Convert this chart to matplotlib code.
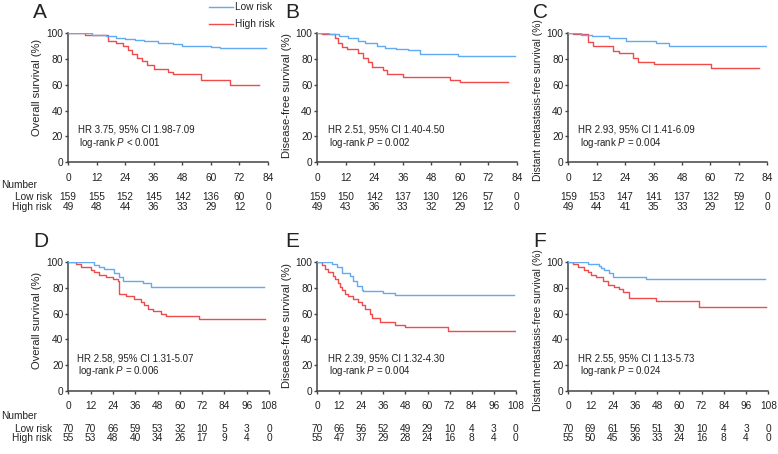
import matplotlib.pyplot as plt
from matplotlib.lines import Line2D
from matplotlib.transforms import blended_transform_factory

plt.rcParams["font.family"] = ["Liberation Sans", "DejaVu Sans"]
plt.rcParams["mathtext.fontset"] = "custom"
plt.rcParams["mathtext.rm"] = "Liberation Sans"
plt.rcParams["mathtext.it"] = "Liberation Sans:italic"

BLUE = "#62aaf2"
RED = "#ef4b4b"
INK = "#222222"

# ---- data ----
panel_letters = ["A", "B", "C", "D", "E", "F"]

ylabels = [
    "Overall survival (%)",
    "Disease-free survival (%)",
    "Distant metastasis-free survival (%)",
    "Overall survival (%)",
    "Disease-free survival (%)",
    "Distant metastasis-free survival (%)",
]

hr_text = [
    "HR 3.75, 95% CI 1.98-7.09",
    "HR 2.51, 95% CI 1.40-4.50",
    "HR 2.93, 95% CI 1.41-6.09",
    "HR 2.58, 95% CI 1.31-5.07",
    "HR 2.39, 95% CI 1.32-4.30",
    "HR 2.55, 95% CI 1.13-5.73",
]

p_text = ["< 0.001", "= 0.002", "= 0.004", "= 0.006", "= 0.004", "= 0.024"]

x_max = [84, 84, 84, 108, 108, 108]

# low risk step curves: change times, survival after change, last follow-up
low_t = [
    [0, 10, 16, 20, 24, 28, 32, 38, 44, 48, 60, 64],
    [0, 5, 9, 13, 17, 20, 25, 28.5, 33, 38.3, 43.3, 59.4],
    [0, 5.4, 10, 17.3, 24.4, 37, 42.7],
    [0, 14, 16.5, 19.4, 24.8, 27.4, 29.3, 40.4, 44.5],
    [0, 7.8, 10.6, 13.3, 17.8, 19.6, 21.4, 24.2, 25, 35.9, 42.3],
    [0, 10.5, 16.7, 17.7, 19.4, 22.1, 23.9, 42],
]
low_s = [
    [100, 98.5, 97.5, 96.5, 95.5, 94.5, 93.5, 92.5, 91.5, 90, 89, 88.3],
    [100, 99, 97.5, 95.9, 94, 92, 90.3, 88.7, 87.8, 86.9, 83.6, 82.5],
    [100, 98.5, 97.3, 95.9, 93.8, 92, 90.3],
    [100, 98.2, 96.5, 94.9, 91.5, 88.4, 85.8, 83.7, 81.1],
    [100, 98.7, 96.4, 91.5, 89.7, 85.8, 81.9, 78.2, 77.4, 76.1, 74.3],
    [100, 98.7, 96.9, 95.3, 93.8, 91.7, 88.6, 86.8],
]
low_end = [83, 83.3, 83.4, 105.5, 107, 106.2]

high_t = [
    [0, 7, 17, 20, 23, 25, 27, 29, 31, 33, 36, 42, 44, 56, 68],
    [0, 1.8, 7.4, 8.8, 10.3, 12.4, 17.3, 19.4, 21.5, 22.9, 27.8, 29.2, 36.2, 55.9, 60.1],
    [0, 1.8, 8.2, 10.3, 18.7, 21.5, 27.2, 29.3, 36.3, 60.2],
    [0, 4.1, 6.8, 12.2, 14, 16.7, 20.3, 23.9, 26.6, 27.5, 31, 35.5, 39.1, 40.9,
     42.7, 45.4, 49.9, 52.6, 70.5],
    [0, 2.4, 4.2, 6, 8.7, 9.6, 11.4, 12.4, 13.3, 15.1, 16.9, 19.6, 22.3, 24.2,
     26, 28.7, 29.6, 34.1, 42.3, 47.7, 71.3],
    [0, 2.4, 5.1, 8.6, 10.5, 12.3, 15, 18.6, 21.3, 24.8, 27.5, 29.4, 32.9, 47.4, 70.7],
]
high_s = [
    [100, 98.5, 94, 92, 90, 87, 84, 81, 78, 75, 72, 70, 68, 64, 60],
    [100, 99, 95.9, 92, 89.5, 87.7, 84.3, 80.5, 77.9, 74, 71.5, 68.1, 65.6, 63.7, 62],
    [100, 98.9, 93.4, 90.3, 86.1, 84.3, 81, 77.9, 75.8, 73.3],
    [100, 98.7, 96.6, 94, 92.2, 90.4, 88.9, 87, 85.2, 75.5, 73.4, 71.6, 69, 66.4,
     63.9, 62, 59.9, 58.1, 55.5],
    [100, 97.7, 94.9, 92.2, 89.7, 87, 83.7, 81.1, 78.5, 75.5, 73.4, 71.6, 69,
     66.4, 63.9, 59.9, 56.8, 53.5, 51.4, 49.6, 46.5],
    [100, 98.7, 96.6, 94, 92.2, 90.4, 88.4, 85.8, 82.6, 80.5, 79.1, 76.6, 72.2, 70.1, 65.5],
]
high_end = [80.2, 80.4, 80.4, 106, 107.6, 106.7]

# numbers at risk
low_n = [
    [159, 155, 152, 145, 142, 136, 60, 0],
    [159, 150, 142, 137, 130, 126, 57, 0],
    [159, 153, 147, 141, 137, 132, 59, 0],
    [70, 70, 66, 59, 53, 32, 10, 5, 3, 0],
    [70, 66, 56, 52, 49, 29, 10, 4, 3, 0],
    [70, 69, 61, 56, 51, 30, 10, 4, 3, 0],
]
high_n = [
    [49, 48, 44, 36, 33, 29, 12, 0],
    [49, 43, 36, 33, 32, 29, 12, 0],
    [49, 44, 41, 35, 33, 29, 12, 0],
    [55, 53, 48, 40, 34, 26, 17, 9, 4, 0],
    [55, 47, 37, 29, 28, 24, 16, 8, 4, 0],
    [55, 50, 45, 36, 33, 24, 16, 8, 4, 0],
]

# ---- layout (pixels of the 778x454 figure) ----
W, H = 778, 454
ax_left = [68, 317.3, 568.3, 68.3, 317.3, 568.3]
ax_width = [200, 199.4, 199, 200.7, 198.4, 200]
ax_top = [33, 33, 33, 262.3, 262.3, 262.3]
ax_bottom = [162.3, 162.3, 162.3, 390.7, 390.7, 390.7]
letter_x = [33, 285, 533, 33, 285, 533]
letter_y = [3, 3, 3, 232, 232, 232]
ylabel_y = [0.58, 0.52, 0.48, 0.55, 0.51, 0.47]
ylabel_size = [8, 8, 7.4, 8, 8, 7.4]
ylabel_off = [26, 25, 25, 26, 25, 25]
hr_x = [0.048, 0.052, 0.05, 0.042, 0.052, 0.05]
row_number_y = [185, 185, 185, 415.7, 415.7, 415.7]
row_low_y = [197, 197, 197, 429, 429, 429]
row_high_y = [207.3, 207.3, 207.3, 438.3, 438.3, 438.3]

fig = plt.figure(figsize=(W / 100, H / 100), dpi=100)

for i in range(6):
    l = ax_left[i] / W
    b = 1 - ax_bottom[i] / H
    w = ax_width[i] / W
    h = (ax_bottom[i] - ax_top[i]) / H
    ax = fig.add_axes([l, b, w, h])

    ax.step(low_t[i] + [low_end[i]], low_s[i] + [low_s[i][-1]],
            where="post", color=BLUE, lw=1.0, zorder=3)
    ax.step(high_t[i] + [high_end[i]], high_s[i] + [high_s[i][-1]],
            where="post", color=RED, lw=1.0, zorder=2)

    ax.set_xlim(0, x_max[i])
    ax.set_ylim(0, 100)
    ax.set_xticks(range(0, x_max[i] + 1, 12))
    ax.set_yticks(range(0, 101, 20))
    for s in ["top", "right"]:
        ax.spines[s].set_visible(False)
    for s in ["left", "bottom"]:
        ax.spines[s].set_color("#444444")
        ax.spines[s].set_linewidth(1.1)
    ax.tick_params(axis="x", length=2.5, width=1, pad=5, labelsize=7.3,
                   colors="#444444", labelcolor=INK)
    ax.tick_params(axis="y", length=2.5, width=1, pad=1, labelsize=7.3,
                   colors="#444444", labelcolor=INK)

    ax.set_ylabel(ylabels[i], fontsize=ylabel_size[i], color=INK)
    ax.yaxis.set_label_coords(-ylabel_off[i] / ax_width[i], ylabel_y[i])

    ax.text(hr_x[i], 0.25, hr_text[i], transform=ax.transAxes,
            fontsize=7, color=INK, va="center", ha="left")
    ax.text(hr_x[i] + 0.008, 0.152, "log-rank $P$ " + p_text[i],
            transform=ax.transAxes, fontsize=7, color=INK, va="center", ha="left")

    fig.text(letter_x[i] / W, 1 - letter_y[i] / H, panel_letters[i],
             fontsize=15, color=INK, va="top", ha="left")

    # numbers at risk
    tr = blended_transform_factory(ax.transData, fig.transFigure)
    ticks = list(range(0, x_max[i] + 1, 12))
    for t, n in zip(ticks, low_n[i]):
        ax.text(t, 1 - row_low_y[i] / H, str(n), transform=tr, fontsize=7.3,
                color=INK, ha="center", va="center")
    for t, n in zip(ticks, high_n[i]):
        ax.text(t, 1 - row_high_y[i] / H, str(n), transform=tr, fontsize=7.3,
                color=INK, ha="center", va="center")

    if i in (0, 3):
        fig.text(1 / W, 1 - row_number_y[i] / H, "Number", fontsize=7.3,
                 color=INK, ha="left", va="center")
        fig.text(52 / W, 1 - row_low_y[i] / H, "Low risk", fontsize=7.3,
                 color=INK, ha="right", va="center")
        fig.text(52 / W, 1 - row_high_y[i] / H, "High risk", fontsize=7.3,
                 color=INK, ha="right", va="center")

# legend
fig.add_artist(Line2D([209 / W, 233 / W], [1 - 7 / H, 1 - 7 / H], color=BLUE, lw=1.0))
fig.add_artist(Line2D([209 / W, 233 / W], [1 - 24 / H, 1 - 24 / H], color=RED, lw=1.0))
fig.text(235 / W, 1 - 7 / H, "Low risk", fontsize=7.3, color=INK, va="center", ha="left")
fig.text(235 / W, 1 - 24 / H, "High risk", fontsize=7.3, color=INK, va="center", ha="left")

fig.savefig("out.png", dpi=100)
